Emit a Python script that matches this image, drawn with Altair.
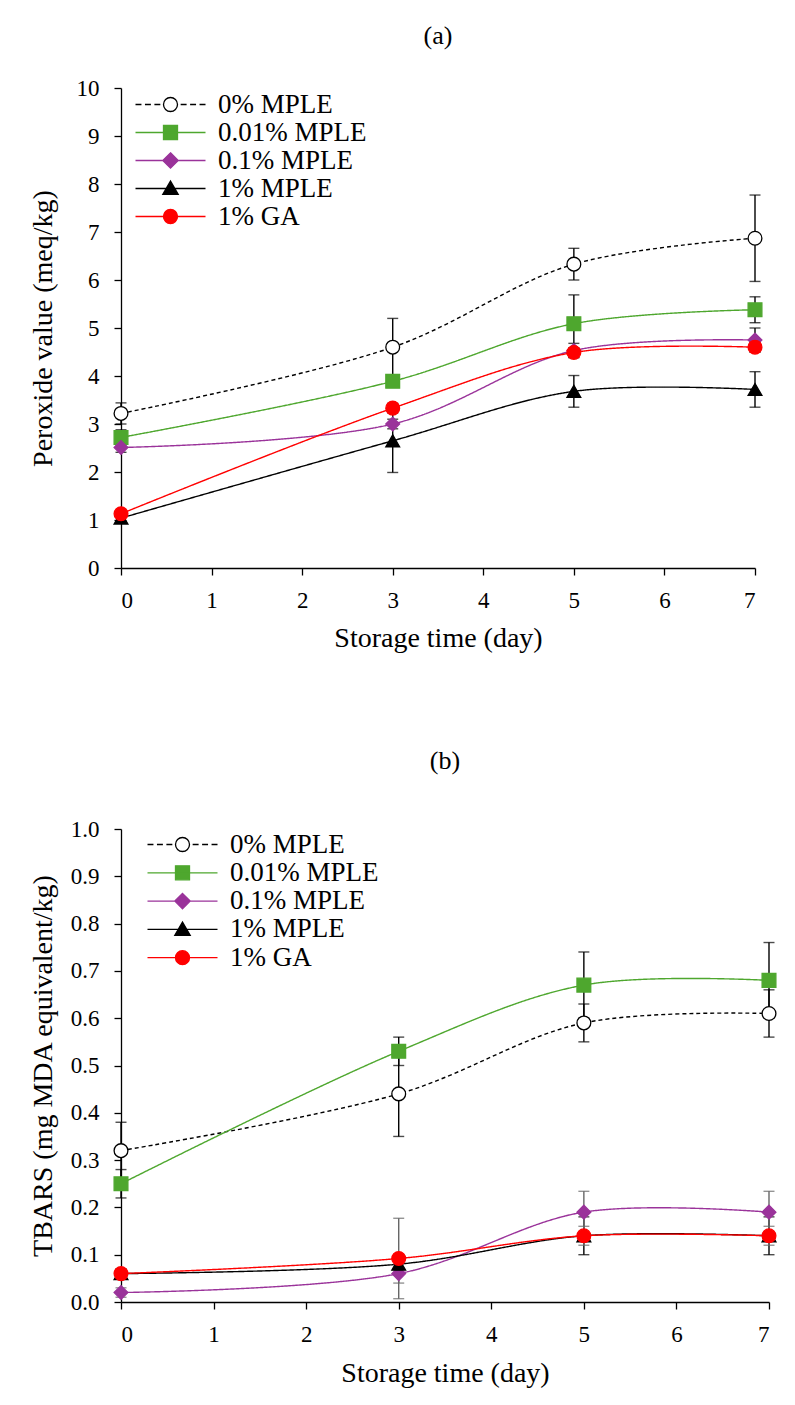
import altair as alt
import pandas as pd

days = [0, 3, 5, 7]
series = ["0% MPLE", "0.01% MPLE", "0.1% MPLE", "1% MPLE", "1% GA"]

# Panel (a) peroxide value (meq/kg)
pv_0 = [3.22, 4.60, 6.33, 6.87]
pv_001 = [2.72, 3.89, 5.09, 5.38]
pv_01 = [2.51, 3.00, 4.53, 4.75]
pv_1 = [1.04, 2.65, 3.68, 3.72]
pv_ga = [1.13, 3.33, 4.49, 4.60]
pv_err_0 = [0.22, 0.60, 0.33, 0.90]
pv_err_001 = [0.16, 0.10, 0.60, 0.27]
pv_err_01 = [0.10, 0.10, 0.15, 0.25]
pv_err_1 = [0.05, 0.66, 0.33, 0.37]
pv_err_ga = [0.05, 0.10, 0.10, 0.10]

# Panel (b) TBARS (mg MDA equivalent/kg)
tb_0 = [0.32, 0.44, 0.59, 0.61]
tb_001 = [0.25, 0.53, 0.67, 0.68]
tb_01 = [0.02, 0.06, 0.19, 0.19]
tb_1 = [0.06, 0.08, 0.14, 0.14]
tb_ga = [0.06, 0.092, 0.14, 0.14]
tb_err_0 = [0.06, 0.09, 0.04, 0.05]
tb_err_001 = [0.03, 0.03, 0.07, 0.08]
tb_err_01 = [0.01, 0.02, 0.044, 0.044]
tb_err_1 = [0.01, 0.02, 0.04, 0.04]
tb_err_ga = [0.01, 0.085, 0.02, 0.02]

line_colors = ["#000000", "#4EA72E", "#9A339A", "#000000", "#FF0000"]
fill_colors = ["#FFFFFF", "#4EA72E", "#9A339A", "#000000", "#FF0000"]
stroke_colors = ["#000000", "#4EA72E", "#9A339A", "#000000", "#FF0000"]
dashes = [[4, 3], [1, 0], [1, 0], [1, 0], [1, 0]]
shapes = ["circle", "square", "diamond", "triangle-up", "circle"]
err_colors_a = ["#000000", "#000000", "#000000", "#000000", "#000000"]
err_colors_b = ["#000000", "#000000", "#666666", "#000000", "#666666"]

# legend symbols: line (dashed or solid) through the marker, unit box = marker
circ = "M1,0A1,1 0 1,1 -1,0A1,1 0 1,1 1,0Z"
dash_l = "M-5,0H-4.15M-3.65,0H-2.8M-2.3,0H-1.45"
dash_r = "M1.45,0H2.3M2.8,0H3.65M4.15,0H5"
legend_paths = [
    dash_l + dash_r + circ,
    "M-5,0H5M-1,-1H1V1H-1Z",
    "M-5,0H5M0,-1.1L1.1,0L0,1.1L-1.1,0Z",
    "M-5,0H5M0,-1.05L1.1,0.85L-1.1,0.85Z",
    "M-5,0H5" + circ,
]

FONT = "Liberation Serif"


def long_df(vals, errs, ecols):
    rows = []
    for s, v, e, c in zip(series, vals, errs, ecols):
        for d, vv, ee in zip(days, v, e):
            rows.append({"day": d, "series": s, "value": vv,
                         "lo": vv - ee, "hi": vv + ee, "ecol": c})
    return pd.DataFrame(rows)


def panel(df, title, ytitle, ymax, yvals, yfmt, w, h, lx, ly, rowpad,
          ytpad, toff, xlpad, xtpad):
    x = alt.X("day:Q", scale=alt.Scale(domain=[0, 7], nice=False, zero=False),
              axis=alt.Axis(values=list(range(8)), title="Storage time (day)",
                            format="d", labelPadding=xlpad, titlePadding=xtpad))
    y = alt.Y("value:Q", scale=alt.Scale(domain=[0, ymax], nice=False),
              axis=alt.Axis(values=yvals, format=yfmt, title=ytitle,
                            titlePadding=ytpad, labelPadding=15))
    base = alt.Chart(df)
    lines = base.mark_line(interpolate="catmull-rom", strokeWidth=1.4).encode(
        x=x, y=y,
        color=alt.Color("series:N", scale=alt.Scale(domain=series, range=line_colors), legend=None),
        strokeDash=alt.StrokeDash("series:N", scale=alt.Scale(domain=series, range=dashes), legend=None),
        order=alt.Order("day:Q"),
    )
    layers = [lines]
    for col in sorted(set(df["ecol"])):
        sub = base.transform_filter(alt.datum.ecol == col)
        layers.append(sub.mark_rule(color=col, strokeWidth=1.4).encode(
            x=x, y=alt.Y("lo:Q"), y2="hi:Q"))
        layers.append(sub.mark_tick(color=col, orient="horizontal", size=11, thickness=1.4).encode(
            x=x, y=alt.Y("lo:Q")))
        layers.append(sub.mark_tick(color=col, orient="horizontal", size=11, thickness=1.4).encode(
            x=x, y=alt.Y("hi:Q")))
    points = base.mark_point(filled=True, size=190, strokeWidth=1.3, opacity=1).encode(
        x=x, y=y,
        shape=alt.Shape("series:N", scale=alt.Scale(domain=series, range=shapes), legend=None),
        fill=alt.Fill("series:N", scale=alt.Scale(domain=series, range=fill_colors), legend=None),
        stroke=alt.Stroke("series:N", scale=alt.Scale(domain=series, range=stroke_colors), legend=None),
    )
    layers.append(points)
    leg = alt.Legend(title=None, orient="none", legendX=lx, legendY=ly,
                     labelFont=FONT, labelFontSize=27, labelColor="black",
                     symbolSize=196, symbolStrokeWidth=1.3, labelOffset=34,
                     rowPadding=rowpad, padding=0,
                     symbolOpacity=1, labelLimit=400)
    dummy = base.transform_filter("false").mark_point(filled=True, size=196, strokeWidth=1.3).encode(
        shape=alt.Shape("series:N", scale=alt.Scale(domain=series, range=legend_paths), legend=leg),
        fill=alt.Fill("series:N", scale=alt.Scale(domain=series, range=fill_colors), legend=leg),
        stroke=alt.Stroke("series:N", scale=alt.Scale(domain=series, range=stroke_colors), legend=leg),
    )
    layers.append(dummy)
    return alt.layer(*layers).resolve_scale(
        shape="independent", fill="independent", stroke="independent"
    ).properties(
        width=w, height=h,
        title=alt.TitleParams(title, font=FONT, fontSize=26, fontWeight="normal",
                              color="black", offset=toff),
    )


df_a = long_df([pv_0, pv_001, pv_01, pv_1, pv_ga],
               [pv_err_0, pv_err_001, pv_err_01, pv_err_1, pv_err_ga], err_colors_a)
df_b = long_df([tb_0, tb_001, tb_01, tb_1, tb_ga],
               [tb_err_0, tb_err_001, tb_err_01, tb_err_1, tb_err_ga], err_colors_b)

pa = panel(df_a, "(a)", "Peroxide value (meq/kg)", 10, list(range(11)), "d",
           634, 480, 36, 3, 0, 19, 28, 14, 12)
pb = panel(df_b, "(b)", "TBARS (mg MDA equivalent/kg)", 1.0,
           [round(i * 0.1, 1) for i in range(11)], ".1f",
           648, 473, 48, 2, 0.3, 13, 44, 14, 13)

chart = alt.vconcat(pa, pb, spacing=96).configure(
    padding={"left": 21, "top": 15, "right": 5, "bottom": 5},
).configure_view(stroke=None).configure_axis(
    labelFont=FONT, titleFont=FONT, labelFontSize=23, titleFontSize=28,
    labelColor="black", titleColor="black", titleFontWeight="normal",
    domainColor="black", tickColor="black", domainWidth=1.3, tickWidth=1.3,
    tickSize=7, grid=False,
)

chart.save("out.html", embed_options={"renderer": "svg", "actions": False})
